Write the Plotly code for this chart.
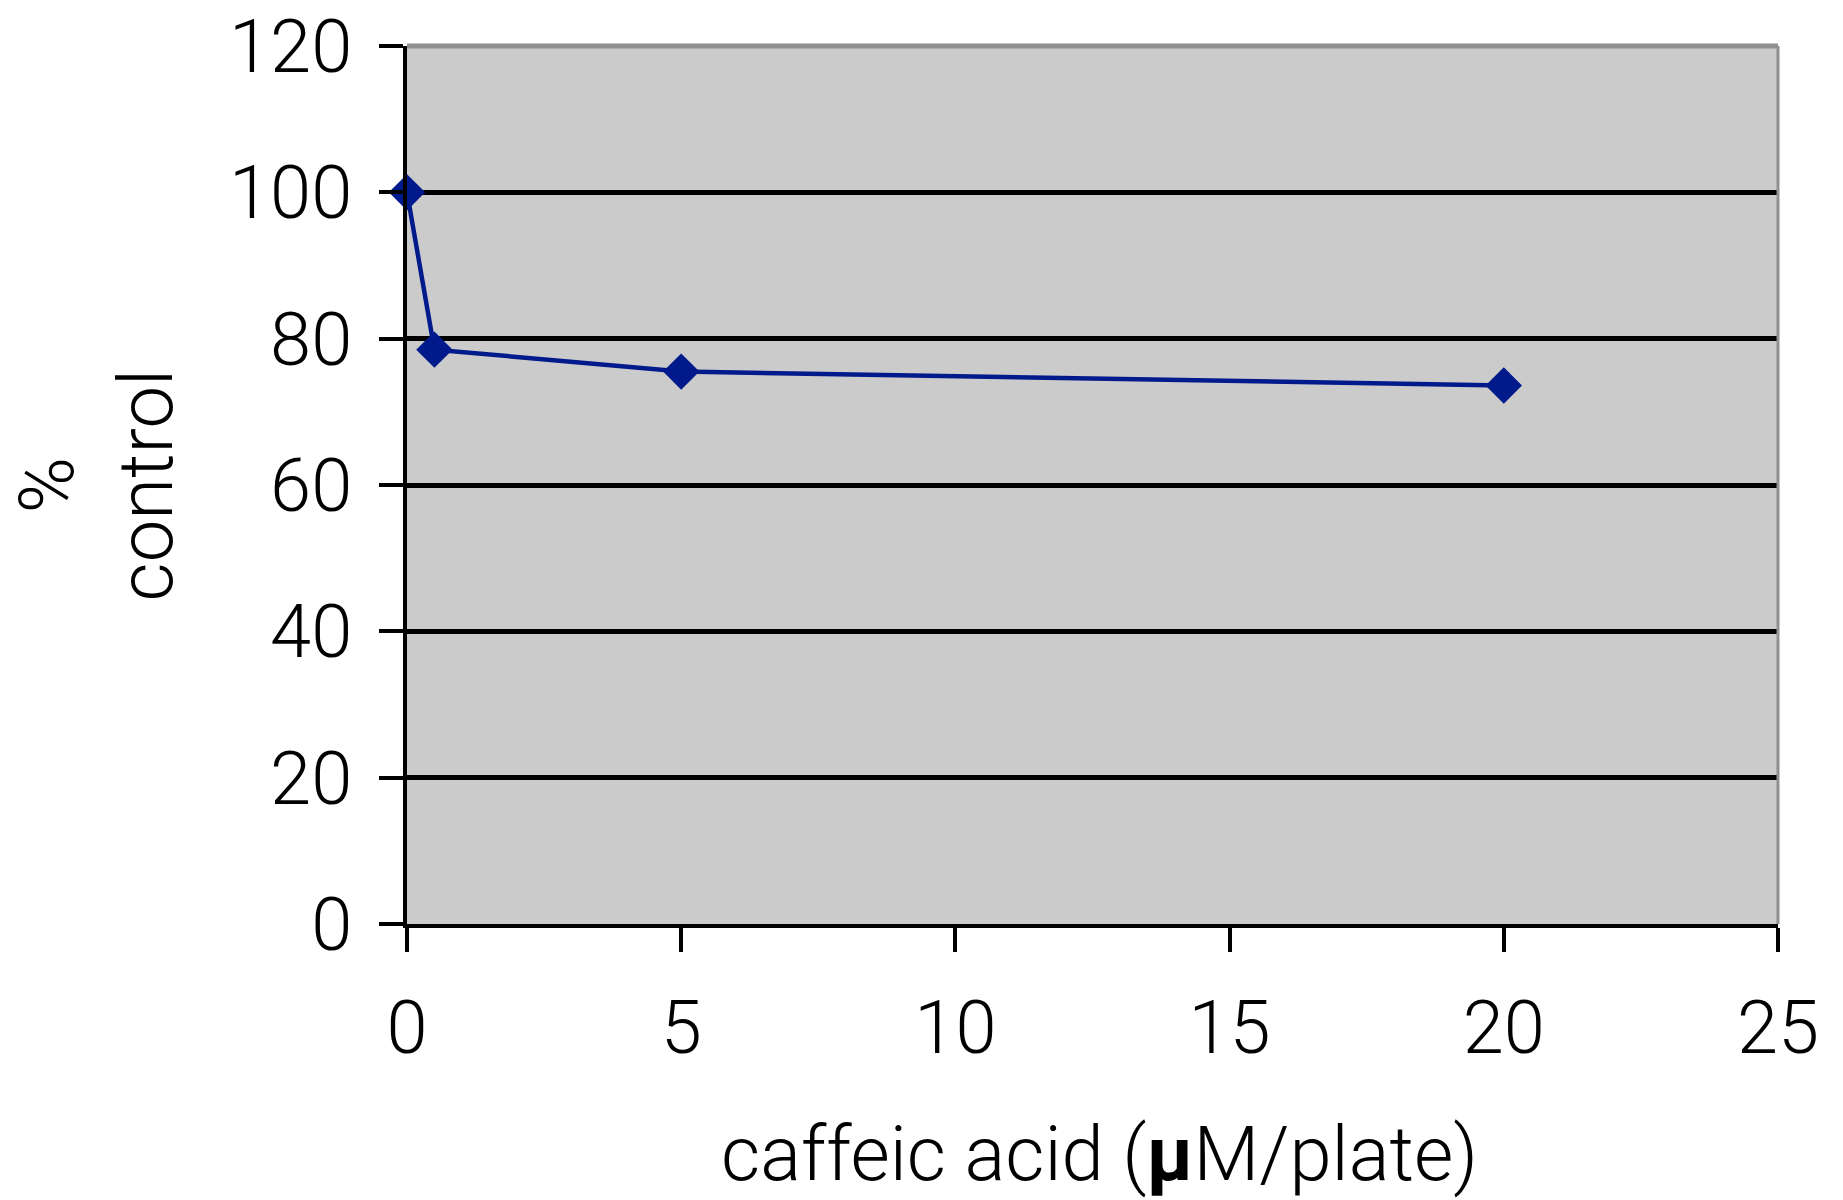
import plotly.graph_objects as go

# Data
concentration = [0, 0.5, 5, 20]          # caffeic acid (µM/plate)
pct_control = [100, 78.5, 75.5, 73.6]    # % control

x_ticks = [0, 5, 10, 15, 20, 25]
y_ticks = [0, 20, 40, 60, 80, 100, 120]

FONT = "Roboto"
BLUE = "#001A8C"

fig = go.Figure()
fig.add_trace(go.Scatter(
    x=concentration, y=pct_control,
    mode="lines+markers",
    line=dict(color=BLUE, width=4.5),
    marker=dict(symbol="diamond", size=28, color=BLUE),
    cliponaxis=False,
    showlegend=False,
))

tick_font = dict(family=FONT, size=74, weight=300)

fig.update_layout(
    width=1843, height=1200,
    margin=dict(l=407, r=65, t=46, b=276, autoexpand=False),
    paper_bgcolor="white",
    plot_bgcolor="#CBCBCB",
    font=dict(family=FONT, color="black", size=74, weight=300),
    xaxis=dict(
        range=[0, 25], tickvals=x_ticks, ticktext=[str(v) for v in x_ticks],
        showgrid=False, zeroline=False, automargin=False,
        showline=True, linecolor="black", linewidth=4,
        ticks="outside", ticklen=24, tickwidth=4, tickcolor="black",
        ticklabelstandoff=12, ticklabeloverflow="allow",
        tickfont=tick_font,
    ),
    yaxis=dict(
        range=[0, 120], tickvals=y_ticks, ticktext=[str(v) for v in y_ticks],
        showgrid=True, gridcolor="black", gridwidth=4.5, zeroline=False,
        automargin=False,
        showline=True, linecolor="black", linewidth=4,
        ticks="outside", ticklen=24, tickwidth=4, tickcolor="black",
        ticklabelstandoff=12, ticklabeloverflow="allow",
        tickfont=tick_font,
    ),
    shapes=[
        dict(type="line", xref="paper", yref="paper", x0=0, x1=1, y0=1, y1=1,
             line=dict(color="#909090", width=5), layer="above"),
        dict(type="line", xref="paper", yref="paper", x0=1, x1=1, y0=0, y1=1,
             line=dict(color="#909090", width=3), layer="above"),
    ],
    annotations=[
        dict(text="caffeic acid (<b>µ</b>M/plate)", xref="paper", yref="paper",
             x=0.505, y=-0.262, xanchor="center", yanchor="middle",
             showarrow=False, font=dict(family=FONT, size=76, weight=300)),
        dict(text="%<br>control", xref="paper", yref="paper",
             x=-0.2265, y=0.5, xanchor="center", yanchor="middle",
             textangle=-90, showarrow=False,
             font=dict(family=FONT, size=76, weight=300)),
    ],
)

fig.write_html("out.html")
